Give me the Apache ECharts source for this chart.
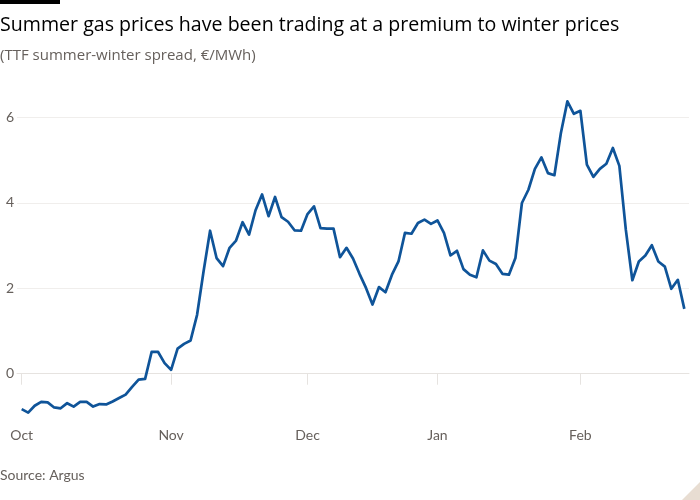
<!DOCTYPE html>
<html>
<head>
<meta charset="utf-8">
<script src="https://cdn.jsdelivr.net/npm/echarts@6/dist/echarts.min.js"></script>
<style>
  html, body { margin: 0; padding: 0; background: #ffffff; }
  #chart { width: 700px; height: 500px; }
</style>
</head>
<body>
<div id="chart"></div>
<script>
// Trading days, 1 Oct 2024 – 25 Feb 2025
const dates = [
  "2024-10-01","2024-10-02","2024-10-03","2024-10-04","2024-10-07","2024-10-08","2024-10-09","2024-10-10","2024-10-11",
  "2024-10-14","2024-10-15","2024-10-16","2024-10-17","2024-10-18","2024-10-21","2024-10-22","2024-10-23","2024-10-24",
  "2024-10-25","2024-10-28","2024-10-29","2024-10-30","2024-10-31",
  "2024-11-01","2024-11-04","2024-11-05","2024-11-06","2024-11-07","2024-11-08","2024-11-11","2024-11-12","2024-11-13",
  "2024-11-14","2024-11-15","2024-11-18","2024-11-19","2024-11-20","2024-11-21","2024-11-22","2024-11-25","2024-11-26",
  "2024-11-27","2024-11-28","2024-11-29",
  "2024-12-02","2024-12-03","2024-12-04","2024-12-05","2024-12-06","2024-12-09","2024-12-10","2024-12-11","2024-12-12",
  "2024-12-13","2024-12-16","2024-12-17","2024-12-18","2024-12-19","2024-12-20","2024-12-23","2024-12-24","2024-12-27",
  "2024-12-30","2024-12-31",
  "2025-01-02","2025-01-03","2025-01-06","2025-01-07","2025-01-08","2025-01-09","2025-01-10","2025-01-13","2025-01-14",
  "2025-01-15","2025-01-16","2025-01-17","2025-01-20","2025-01-21","2025-01-22","2025-01-23","2025-01-24","2025-01-27",
  "2025-01-28","2025-01-29","2025-01-30","2025-01-31",
  "2025-02-03","2025-02-04","2025-02-05","2025-02-06","2025-02-07","2025-02-10","2025-02-11","2025-02-12","2025-02-13",
  "2025-02-14","2025-02-17","2025-02-18","2025-02-19","2025-02-20","2025-02-21","2025-02-24","2025-02-25"
];

// TTF summer-winter spread, €/MWh
const spread = [
  -0.83,-0.91,-0.75,-0.66,-0.67,-0.79,-0.81,-0.69,-0.77,-0.66,-0.66,-0.77,-0.71,-0.72,-0.65,-0.57,-0.49,-0.31,-0.14,-0.12,
  0.51,0.51,0.25,0.09,0.59,0.70,0.78,1.38,2.40,3.35,2.71,2.52,2.95,3.12,3.55,3.26,3.83,4.20,3.69,4.14,
  3.67,3.56,3.36,3.35,3.74,3.92,3.41,3.40,3.40,2.73,2.95,2.70,2.34,2.01,1.62,2.03,1.91,2.32,2.63,3.30,
  3.28,3.53,3.61,3.51,3.59,3.30,2.77,2.88,2.45,2.32,2.26,2.89,2.65,2.57,2.34,2.32,2.71,4.00,4.31,4.80,
  5.07,4.70,4.65,5.64,6.38,6.09,6.16,4.90,4.61,4.80,4.92,5.29,4.87,3.37,2.19,2.63,2.77,3.01,2.63,2.51,
  1.99,2.20,1.52
];

const monthLabels = ["Oct", "Nov", "Dec", "Jan", "Feb"];
const yTicks = [0, 2, 4, 6];

const titleText = "Summer gas prices have been trading at a premium to winter prices";
const subtitleText = "(TTF summer-winter spread, €/MWh)";
const sourceText = "Source: Argus";

// indices of first trading day of each month
const monthStarts = [];
dates.forEach((d, i) => {
  if (i === 0 || d.slice(0, 7) !== dates[i - 1].slice(0, 7)) monthStarts.push(i);
});

const FONT = "Lato, 'Noto Sans', sans-serif";
const HEAD_FONT = "'Open Sans', 'Noto Sans', sans-serif";
const chart = echarts.init(document.getElementById('chart'), null, { renderer: 'canvas' });

chart.setOption({
  backgroundColor: '#ffffff',
  animation: false,
  grid: { left: 17, right: 11, top: 92, bottom: 87, containLabel: false },
  xAxis: {
    type: 'value',
    min: -0.72,
    max: dates.length - 1 + 0.72,
    axisLine: { show: true, lineStyle: { color: '#e6e3e0', width: 1 } },
    axisTick: {
      show: true, length: 11, customValues: monthStarts,
      lineStyle: { color: '#e6e3e0', width: 1 }
    },
    axisLabel: {
      show: true, customValues: monthStarts, margin: 15,
      color: '#66605c', fontSize: 14, fontFamily: FONT,
      formatter: v => monthLabels[monthStarts.indexOf(Math.round(v))] || ''
    },
    splitLine: { show: false }
  },
  yAxis: {
    type: 'value',
    min: -0.92,
    max: 6.6,
    axisLine: { show: false },
    axisTick: { show: false, customValues: yTicks },
    axisLabel: {
      show: true, customValues: yTicks, align: 'left', margin: 11,
      color: '#66605c', fontSize: 14, fontFamily: FONT
    },
    splitLine: { show: true, lineStyle: { color: '#f0eeec', width: 1 } }
  },
  series: [{
    type: 'line',
    data: spread.map((v, i) => [i, v]),
    symbol: 'none',
    lineStyle: { color: '#0f5499', width: 2.7, join: 'round' },
    z: 3
  }],
  graphic: [
    { type: 'rect', shape: { x: 0, y: 0, width: 60, height: 4 }, style: { fill: '#000000' } },
    { type: 'text', x: 0, y: 25, style: { text: titleText, fill: '#000000', font: "19.6px " + HEAD_FONT, textVerticalAlign: 'middle' } },
    { type: 'text', x: 0, y: 56, style: { text: subtitleText, fill: '#66605c', font: "15px " + HEAD_FONT, textVerticalAlign: 'middle' } },
    { type: 'text', x: 0, y: 475, style: { text: sourceText, fill: '#66605c', font: "14px " + FONT, textVerticalAlign: 'middle' } },
    { type: 'polygon', shape: { points: [[700, 482], [700, 500], [682, 500]] }, style: { fill: '#e8ddd2' } }
  ]
});
</script>
</body>
</html>
